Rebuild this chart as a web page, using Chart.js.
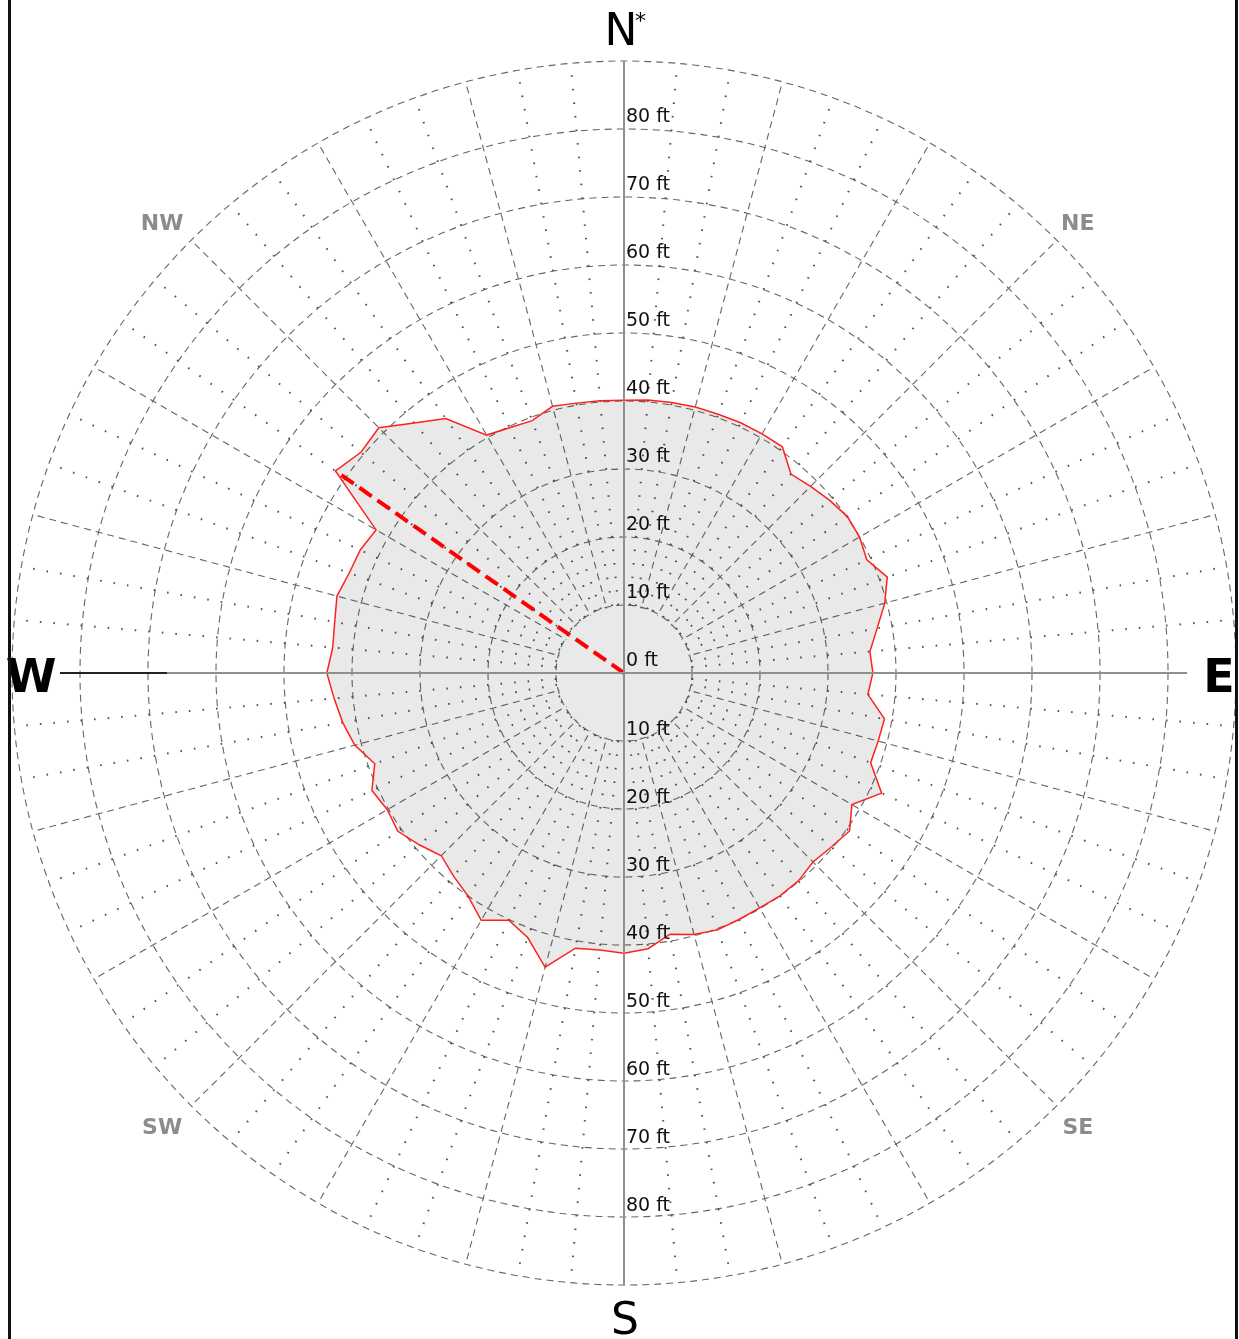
<!DOCTYPE html>
<html>
<head>
<meta charset="utf-8">
<title>Rango por rumbo</title>
<script src="https://cdn.jsdelivr.net/npm/chart.js@4.4.1/dist/chart.umd.min.js"></script>
<style>
  html, body { margin: 0; padding: 0; background: #fff; }
  #wrap { position: relative; width: 1239px; height: 1339px; overflow: hidden; }
  .borde { position: absolute; top: 0; width: 3px; height: 1339px; background: #111; }
</style>
</head>
<body>
<div id="wrap">
  <canvas id="rosa" width="1239" height="1339"></canvas>
  <div class="borde" style="left:8px"></div>
  <div class="borde" style="left:1235px"></div>
</div>
<script>
// rumbos cada 5 grados, empezando en el norte y en sentido horario
const bearings = [
    0, 5, 10, 15, 20, 25, 30, 35, 40, 45, 50, 55,
    60, 65, 70, 75, 80, 85, 90, 95, 100, 105, 110, 115,
    120, 125, 130, 135, 140, 145, 150, 155, 160, 165, 170, 175,
    180, 185, 190, 195, 200, 205, 210, 215, 220, 225, 230, 235,
    240, 245, 250, 255, 260, 265, 270, 275, 280, 285, 290, 295,
    300, 305, 310, 315, 320, 325, 330, 335, 340, 345, 350, 355
];

// alcance en pies para cada rumbo
const ranges = [
    40.1, 40.3, 40.4, 40.5, 40.5, 40.6, 40.6, 40.6, 38.2, 38.8, 39.5, 40.1,
    40.0, 39.4, 41.2, 39.7, 37.8, 36.3, 36.6, 36.0, 38.9, 38.7, 38.6, 41.8,
    38.7, 40.5, 39.8, 39.3, 39.9, 40.0, 39.9, 40.0, 40.2, 39.8, 39.0, 40.7,
    41.2, 40.9, 41.1, 44.8, 41.4, 40.1, 42.0, 40.0, 39.0, 38.0, 39.3, 40.6,
    40.2, 40.9, 39.0, 41.0, 42.0, 42.8, 43.7, 43.0, 43.2, 43.7, 43.0, 42.8,
    42.1, 51.8, 50.5, 51.0, 48.0, 45.7, 40.4, 39.8, 39.5, 40.6, 40.3, 40.2
];

// linea discontinua hasta el maximo
const peakBearings = [300, 305];
const peakRanges = [0, 51.8];

const tickValues = [0, 10, 20, 30, 40, 50, 60, 70, 80];
const compassNames = ['NE', 'SE', 'SW', 'NW'];
const compassBearings = [45, 135, 225, 315];

const peakData = bearings.map(b => {
    const i = peakBearings.indexOf(b);
    return i === -1 ? null : peakRanges[i];
});

const rosaPlugin = {
    id: 'rosa',
    beforeDatasetsDraw(chart) {
        const scale = chart.scales.r;
        const ctx = chart.ctx;
        const x0 = scale.xCenter, y0 = scale.yCenter;
        // tapa los radios dentro del anillo de 10 ft
        ctx.save();
        ctx.fillStyle = '#fff';
        ctx.beginPath();
        ctx.arc(x0, y0, scale.getDistanceFromCenterForValue(10) - 1.5, 0, Math.PI * 2);
        ctx.fill();
        ctx.restore();
    },
    afterDatasetsDraw(chart) {
        const scale = chart.scales.r;
        const ctx = chart.ctx;
        const x0 = scale.xCenter, y0 = scale.yCenter;
        const R = scale.drawingArea;

        ctx.save();
        // ejes N-S y E-W
        ctx.lineWidth = 2;
        ctx.strokeStyle = '#8f8f8f';
        ctx.beginPath();
        ctx.moveTo(x0, y0 - R);
        ctx.lineTo(x0, y0 + R);
        ctx.moveTo(x0 - R + 48, y0);
        ctx.lineTo(x0 + R - 49, y0);
        ctx.stroke();
        ctx.strokeStyle = '#222';
        ctx.beginPath();
        ctx.moveTo(x0 - R + 48, y0);
        ctx.lineTo(x0 - R + 155, y0);
        ctx.stroke();

        // etiquetas de distancia arriba y abajo
        ctx.font = '19px "DejaVu Sans"';
        ctx.fillStyle = '#111';
        ctx.textAlign = 'left';
        ctx.textBaseline = 'alphabetic';
        tickValues.forEach(v => {
            const d = scale.getDistanceFromCenterForValue(v);
            ctx.fillText(v + ' ft', x0 + 2, y0 - d - 7);
            if (v > 0) ctx.fillText(v + ' ft', x0 + 2, y0 + d - 6);
        });

        // puntos cardinales
        ctx.fillStyle = '#000';
        ctx.textAlign = 'center';
        let p = scale.getPointPosition(bearings.indexOf(0), R + 16);
        ctx.font = '44px "DejaVu Sans"';
        ctx.fillText('N', p.x - 3, p.y);
        ctx.font = '22px "DejaVu Sans"';
        ctx.textAlign = 'left';
        ctx.fillText('*', p.x + 11, p.y - 17);

        ctx.textAlign = 'center';
        p = scale.getPointPosition(bearings.indexOf(180), R + 49);
        ctx.font = '44px "DejaVu Sans"';
        ctx.fillText('S', p.x + 1, p.y);

        ctx.font = 'bold 46px "DejaVu Sans"';
        p = scale.getPointPosition(bearings.indexOf(90), R - 17);
        ctx.fillText('E', p.x, p.y + 19);
        p = scale.getPointPosition(bearings.indexOf(270), R - 19);
        ctx.fillText('W', p.x, p.y + 19);

        ctx.font = 'bold 22px "DejaVu Sans"';
        ctx.fillStyle = '#8c8c8c';
        compassNames.forEach((name, k) => {
            const q = scale.getPointPosition(bearings.indexOf(compassBearings[k]), R + 27);
            const nudge = q.x < x0 ? -10 : 2;
            ctx.fillText(name, q.x + nudge, q.y + 9);
        });
        ctx.restore();
    }
};

new Chart(document.getElementById('rosa'), {
    type: 'radar',
    data: {
        labels: bearings,
        datasets: [{
            label: 'Rumbo maximo',
            data: peakData,
            borderColor: '#ff0000',
            borderWidth: 4,
            borderDash: [15, 7],
            fill: false,
            spanGaps: false,
            pointRadius: 0,
            order: 0
        }, {
            label: 'Alcance',
            data: ranges,
            borderColor: '#ff2020',
            borderWidth: 1.5,
            backgroundColor: 'rgba(0, 0, 0, 0.085)',
            fill: true,
            pointRadius: 0,
            order: 1
        }]
    },
    options: {
        responsive: false,
        animation: false,
        devicePixelRatio: 1,
        layout: { padding: { left: 12, right: 3, top: 61, bottom: 54 } },
        plugins: {
            legend: { display: false },
            tooltip: { enabled: false }
        },
        elements: { line: { tension: 0 } },
        scales: {
            r: {
                min: 0,
                max: 90,
                startAngle: 0,
                ticks: { stepSize: 10, display: false },
                pointLabels: { display: false },
                grid: { circular: true, color: '#666', lineWidth: 1.1 },
                border: { dash: [7, 5] },
                angleLines: {
                    color: ctx => ctx.index % 18 === 0 ? 'rgba(0,0,0,0)' : (ctx.index % 3 === 0 ? '#666' : '#555'),
                    lineWidth: ctx => ctx.index % 3 === 0 ? 1.1 : 2,
                    borderDash: ctx => ctx.index % 3 === 0 ? [7, 5] : [1.6, 12]
                }
            }
        }
    },
    plugins: [rosaPlugin]
});
</script>
</body>
</html>
